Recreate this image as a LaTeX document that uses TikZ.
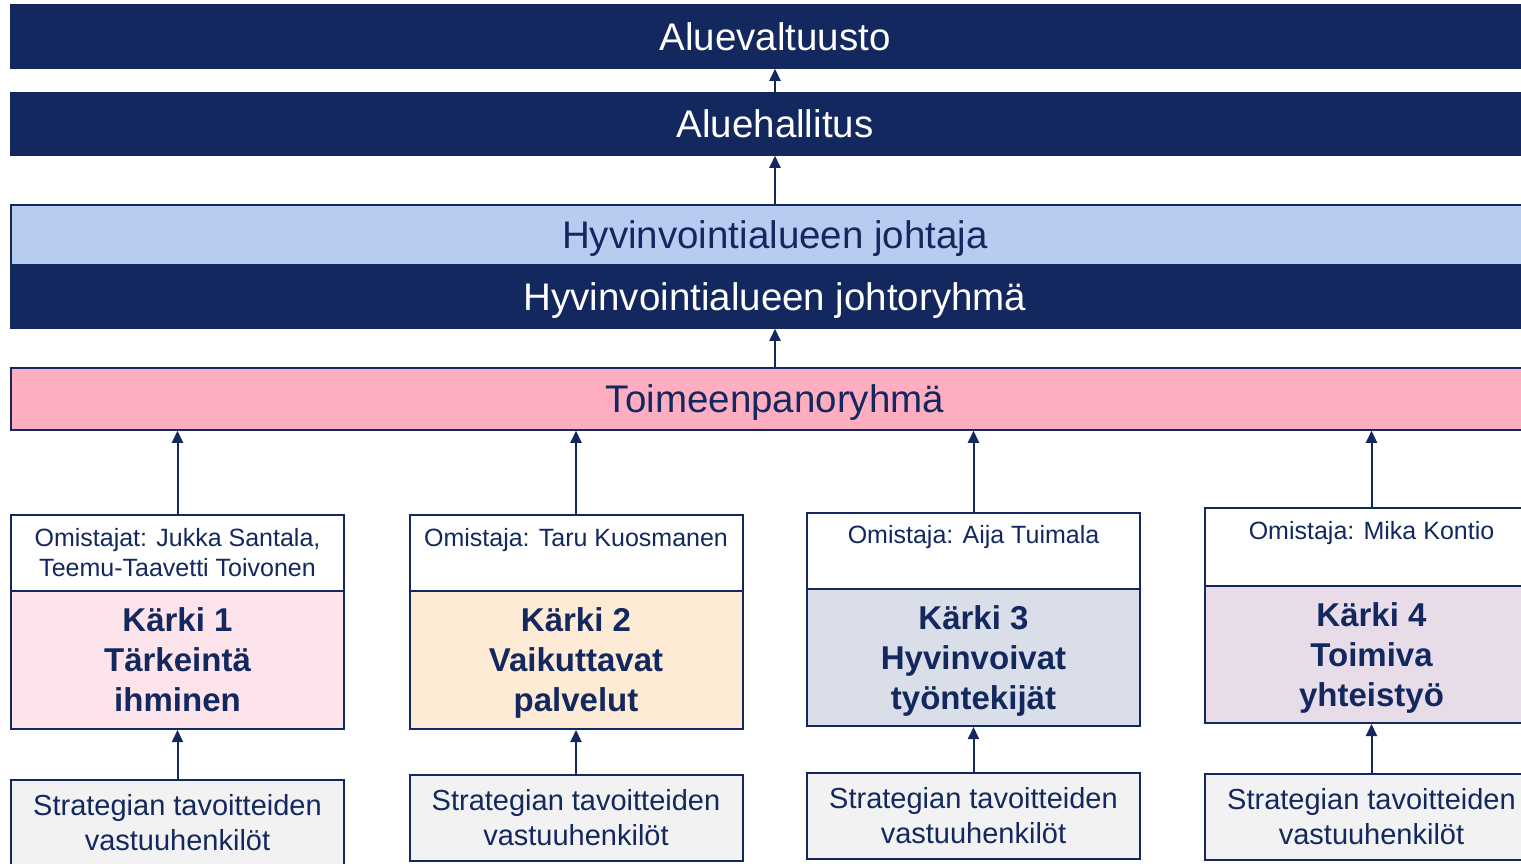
\documentclass[tikz,border=0pt]{standalone}
\usepackage{fontspec}
\setmainfont{Liberation Sans}
\usetikzlibrary{arrows.meta}
\definecolor{navy}{RGB}{19,40,94}
\definecolor{johtajablue}{RGB}{184,204,242}
\definecolor{toimpink}{RGB}{255,173,192}
\definecolor{k1fill}{RGB}{253,228,234}
\definecolor{k2fill}{RGB}{253,235,214}
\definecolor{k3fill}{RGB}{217,222,232}
\definecolor{k4fill}{RGB}{232,220,232}
\definecolor{strfill}{RGB}{242,242,242}
\tikzset{
  bar/.style={draw=navy, line width=1.5pt, minimum width=1528pt, inner sep=0pt, text height=27.5pt, text depth=0pt, font=\fontsize{38.5}{44}\selectfont},
  navybar/.style={bar, fill=navy, text=white},
  colbox/.style={draw=navy, line width=2pt, minimum width=333pt, inner sep=0pt, text=navy},
  ownbox/.style={colbox, fill=white, minimum height=76pt},
  karkibox/.style={colbox, minimum height=138pt, align=center, text depth=0pt, font=\fontsize{33}{40}\selectfont\bfseries},
  strbox/.style={colbox, fill=strfill, minimum height=86pt, align=center, font=\fontsize{29}{35}\selectfont},
  owntext/.style={anchor=north, inner sep=0pt, text=navy, align=center, font=\fontsize{25}{30}\selectfont},
  arr/.style={draw=navy, line width=2pt, -{Triangle[length=12pt,width=11pt]}}
}
\begin{document}
\begin{tikzpicture}[x=1pt,y=-1pt]
\useasboundingbox (0,0) rectangle (1521,863);
\clip (0,0) rectangle (1521,863);
% top bars
\node[navybar, minimum height=63pt] (valt) at (775,36.5) {Aluevaltuusto};
\node[navybar, minimum height=62pt] (hall) at (775,124) {Aluehallitus};
\node[bar, fill=johtajablue, text=navy, minimum height=60pt] (joht) at (775,235) {Hyvinvointialueen johtaja};
\node[navybar, minimum height=63pt] (jryh) at (775,296.5) {Hyvinvointialueen johtoryhmä};
\node[bar, fill=toimpink, text=navy, minimum height=62pt] (toim) at (775,399) {Toimeenpanoryhmä};
\draw[arr] (hall.north) -- (valt.south);
\draw[arr] (joht.north) -- (hall.south);
\draw[arr] (toim.north) -- (jryh.south);
% column 1
\node[ownbox] (own1) at (177.5,553) {};
\node[owntext] (ot1) at (177.5,528) {Omistajat: Jukka Santala,\\Teemu-Taavetti Toivonen};
\node[karkibox, fill=k1fill] (k1) at (177.5,660) {Kärki 1\\Tärkeintä\\ihminen};
\node[strbox] (s1) at (177.5,823) {Strategian tavoitteiden\\vastuuhenkilöt};
% column 2
\node[ownbox] (own2) at (576,553) {};
\node[owntext] (ot2) at (576,528) {Omistaja: Taru Kuosmanen};
\node[karkibox, fill=k2fill] (k2) at (576,660) {Kärki 2\\Vaikuttavat\\palvelut};
\node[strbox] (s2) at (576,818) {Strategian tavoitteiden\\vastuuhenkilöt};
% column 3
\node[ownbox] (own3) at (973.5,550.5) {};
\node[owntext] (ot3) at (973.5,525) {Omistaja: Aija Tuimala};
\node[karkibox, fill=k3fill, minimum height=137pt] (k3) at (973.5,657.5) {Kärki 3\\Hyvinvoivat\\työntekijät};
\node[strbox] (s3) at (973.5,816) {Strategian tavoitteiden\\vastuuhenkilöt};
% column 4
\node[ownbox, minimum height=78pt] (own4) at (1371.5,547) {};
\node[owntext] (ot4) at (1371.5,521) {Omistaja: Mika Kontio};
\node[karkibox, fill=k4fill, minimum height=137pt] (k4) at (1371.5,654.5) {Kärki 4\\Toimiva\\yhteistyö};
\node[strbox] (s4) at (1371.5,816.5) {Strategian tavoitteiden\\vastuuhenkilöt};
% arrows
\foreach \i in {1,2,3,4}{
  \draw[arr] (own\i.north) -- (own\i.north |- toim.south);
  \draw[arr] (s\i.north) -- (k\i.south);
}
\end{tikzpicture}
\end{document}
